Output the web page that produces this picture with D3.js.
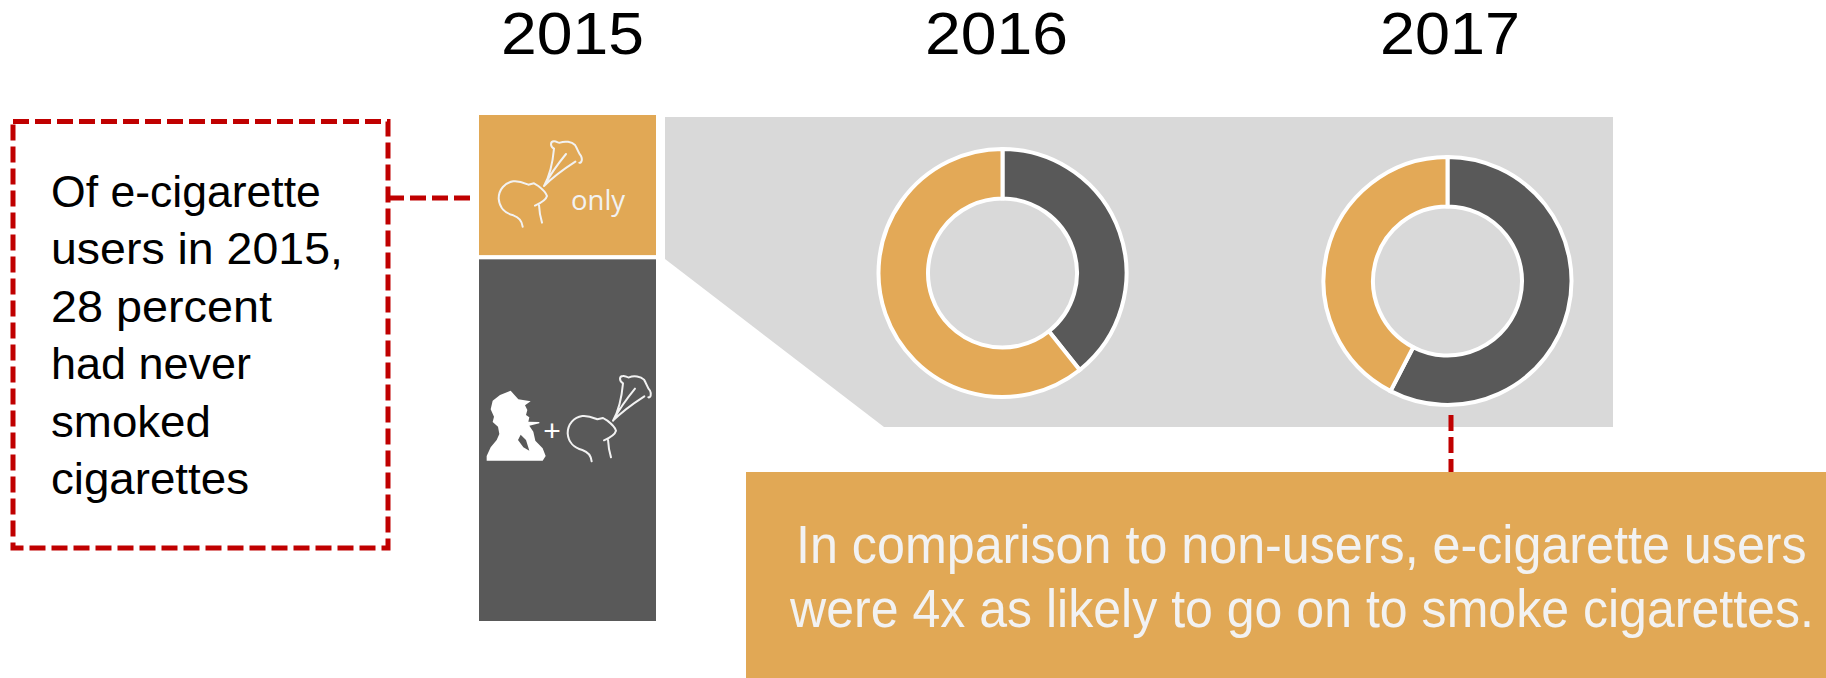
<!DOCTYPE html>
<html><head><meta charset="utf-8">
<script src="https://cdn.jsdelivr.net/npm/d3@7"></script>
<style>html,body{margin:0;padding:0;background:#fff;overflow:hidden}svg{display:block}</style>
</head><body><svg id="c" width="1826" height="678"></svg>
<script>
const years = ["2015","2016","2017"];
const segments = ["e-cigarette only","cigarettes + e-cigarettes"];
const bar2015 = [28.3,71.7];
const donut2016 = [39.3,60.7];
const donut2017 = [57.6,42.4];
const noteLines = ["Of e-cigarette","users in 2015,","28 percent","had never","smoked","cigarettes"];
const calloutLines = ["In comparison to non-users, e-cigarette users","were 4x as likely to go on to smoke cigarettes."];

const ORANGE="#E1A855", DARK="#595959", GRAY="#D9D9D9", RED="#C00000", PALE="#F2F2F2";
const svg=d3.select("#c");
const FONT="'Liberation Sans',Arial,sans-serif";

// grey zoom panel
svg.append("path").attr("d",d3.line()([[665,117],[1613,117],[1613,427],[884,427],[665,259]])).attr("fill",GRAY);

// stacked bar
const yBar=d3.scaleLinear().domain([0,100]).range([113,623]);
const stack=d3.stack().keys([0,1])([bar2015]);
svg.append("g").selectAll("rect").data(stack).join("rect")
  .attr("x",477).attr("width",181)
  .attr("y",d=>yBar(d[0][0])).attr("height",d=>yBar(d[0][1])-yBar(d[0][0]))
  .attr("fill",(d,i)=>i?DARK:ORANGE).attr("stroke","#fff").attr("stroke-width",4);

// donuts
const pie=d3.pie().sort(null);
const arc=d3.arc().innerRadius(74.5).outerRadius(124);
[[donut2016,1002.5,273],[donut2017,1447.5,281]].forEach(([vals,cx,cy])=>{
  svg.append("g").attr("transform",`translate(${cx},${cy})`)
    .selectAll("path").data(pie(vals)).join("path")
    .attr("d",arc).attr("fill",(d,i)=>i?"#E3A957":DARK)
    .attr("stroke","#fff").attr("stroke-width",4);
});

// text squeezed horizontally to a measured width, as the original's narrower face is
function fitX(sel,xs,ys,ws){
  sel.attr("transform",function(d,i){
    const natural=this.getComputedTextLength();
    return `translate(${xs(d,i)},${ys(d,i)}) scale(${ws(d,i)/natural},1)`;
  });
}

// year labels
const yearX=d3.scaleOrdinal().domain(years).range([501,925,1380]);
svg.append("g").selectAll("text").data(years).join("text")
  .attr("font-family",FONT).attr("font-size",59).attr("fill","#000").text(d=>d)
  .call(fitX,d=>yearX(d),()=>54,(d,i)=>[143,143,140][i]);

// red note
const dash="16 6";
svg.append("rect").attr("x",13).attr("y",121.5).attr("width",375).attr("height",426.5)
  .attr("fill","none").attr("stroke",RED).attr("stroke-width",5).attr("stroke-dasharray",dash);
svg.append("line").attr("x1",388).attr("x2",470).attr("y1",198).attr("y2",198)
  .attr("stroke",RED).attr("stroke-width",5).attr("stroke-dasharray",dash);
const noteW=[270,292,221,200,160,198];
svg.append("g").selectAll("text").data(noteLines).join("text")
  .attr("font-family",FONT).attr("font-size",45).attr("fill","#000").text(d=>d)
  .call(fitX,()=>51,(d,i)=>207+i*57.4,(d,i)=>noteW[i]);

// callout
svg.append("rect").attr("x",746).attr("y",472).attr("width",1080).attr("height",206).attr("fill",ORANGE);
svg.append("line").attr("x1",1451).attr("x2",1451).attr("y1",415).attr("y2",472)
  .attr("stroke",RED).attr("stroke-width",5).attr("stroke-dasharray",dash);
const callX=[796,790], callW=[1011,1024];
svg.append("g").selectAll("text").data(calloutLines).join("text")
  .attr("font-family",FONT).attr("font-size",53).attr("fill",PALE).text(d=>d)
  .call(fitX,(d,i)=>callX[i],(d,i)=>563+i*64,(d,i)=>callW[i]);

// icons (decorative glyphs, traced in a 3x local space)
const head="M158,380C156,362 148,352 130,346C105,340 88,322 86,296C86,268 105,248 130,244C150,242 165,250 175,254L192,250L205,258C218,268 228,278 231,288C228,300 215,308 195,317M207,315C208,335 212,355 216,368"
 +"M222,258C238,230 248,190 252,146M222,258C240,225 265,190 288,162M222,258C250,230 285,205 316,185"
 +"M252,146C240,138 240,125 252,124C258,122 265,130 270,128C285,122 305,125 315,135C322,145 325,160 333,168C338,178 335,190 328,188";
const icon=(tx,ty,col)=>svg.append("path").attr("d",head)
  .attr("transform",`translate(${tx},${ty}) scale(${1/3})`)
  .attr("fill","none").attr("stroke",col).attr("stroke-width",6).attr("stroke-linecap","round").attr("stroke-linejoin","round");
icon(470,100,PALE);
icon(470+207/3,360-76/3,PALE);
svg.append("path").attr("transform",`translate(470,360) scale(${1/3})`).attr("fill","#fff").attr("fill-rule","evenodd")
  .attr("d","M50,302L50,288L62,262L80,240L88,222L84,200L68,186L72,170L62,148L68,122L90,105L122,92L145,118L182,124L165,136L172,150L168,165L178,172L175,185L208,186L208,190L178,197L190,215L196,242L218,265L227,288L218,302Z"
   +"M152,224L168,240L178,272L160,262L144,240Z");
svg.append("text").attr("x",552).attr("y",441).attr("text-anchor","middle").attr("font-family",FONT).attr("font-size",30).attr("fill","#fff").text("+");
svg.append("text").attr("x",571).attr("y",210).attr("font-family","'Open Sans',sans-serif").attr("font-size",27.5).attr("fill",PALE).text("only");
</script></body></html>
